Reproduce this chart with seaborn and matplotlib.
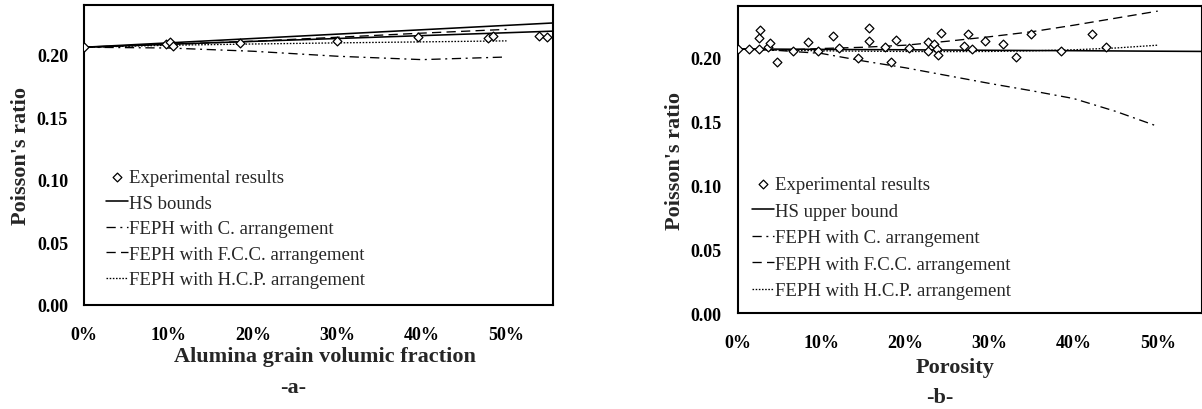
import matplotlib
matplotlib.use("Agg")
import matplotlib.pyplot as plt
from matplotlib.ticker import PercentFormatter, FormatStrFormatter, FixedLocator
import seaborn as sns

# ---- Panel (a): Poisson's ratio vs alumina grain volumic fraction ----
a_exp_x = [0.000, 0.097, 0.102, 0.105, 0.185, 0.299, 0.395, 0.478, 0.484, 0.538, 0.548]
a_exp_y = [0.2062, 0.2088, 0.2102, 0.2070, 0.2100, 0.2115, 0.2145, 0.2137, 0.2155, 0.2150, 0.2145]
a_hs_x = [0.0, 0.1, 0.2, 0.3, 0.4, 0.5, 0.56]
a_hs_upper = [0.2062, 0.2097, 0.2132, 0.2167, 0.2202, 0.2237, 0.2258]
a_hs_lower = [0.2062, 0.2086, 0.2109, 0.2132, 0.2155, 0.2178, 0.2192]
a_model_x = [0.0, 0.1, 0.2, 0.3, 0.4, 0.5]
a_c = [0.2062, 0.2056, 0.2030, 0.1990, 0.1963, 0.1984]
a_fcc = [0.2062, 0.2085, 0.2110, 0.2142, 0.2175, 0.2205]
a_hcp = [0.2062, 0.2078, 0.2088, 0.2097, 0.2105, 0.2113]

# ---- Panel (b): Poisson's ratio vs porosity ----
b_exp_x = [0.000, 0.013, 0.025, 0.025, 0.027, 0.036, 0.038, 0.047, 0.066, 0.084,
           0.096, 0.113, 0.120, 0.143, 0.156, 0.156, 0.175, 0.183, 0.189, 0.204,
           0.226, 0.226, 0.234, 0.237, 0.238, 0.242, 0.269, 0.274, 0.279, 0.294,
           0.316, 0.331, 0.349, 0.385, 0.422, 0.438]
b_exp_y = [0.2063, 0.2063, 0.2063, 0.2152, 0.2209, 0.2080, 0.2110, 0.1959, 0.2050, 0.2115,
           0.2047, 0.2165, 0.2073, 0.1990, 0.2232, 0.2125, 0.2076, 0.1964, 0.2133, 0.2073,
           0.2115, 0.2050, 0.2102, 0.2068, 0.2016, 0.2188, 0.2086, 0.2180, 0.2068, 0.2128,
           0.2107, 0.1998, 0.2178, 0.2050, 0.2178, 0.2076]
b_hs_x = [0.0, 0.1, 0.2, 0.3, 0.4, 0.5, 0.56]
b_hs_upper = [0.2065, 0.2061, 0.2058, 0.2054, 0.2051, 0.2047, 0.2045]
b_model_x = [0.0, 0.05, 0.1, 0.15, 0.2, 0.25, 0.3, 0.35, 0.4, 0.45, 0.5]
b_c = [0.2065, 0.2052, 0.2029, 0.1970, 0.1917, 0.1856, 0.1795, 0.1738, 0.1677, 0.1577, 0.1460]
b_fcc = [0.2065, 0.2055, 0.2068, 0.2078, 0.2094, 0.2125, 0.2160, 0.2199, 0.2250, 0.2305, 0.2360]
b_hcp = [0.2065, 0.2055, 0.2050, 0.2047, 0.2045, 0.2044, 0.2045, 0.2050, 0.2058, 0.2072, 0.2094]

y_ticks = [0.00, 0.05, 0.10, 0.15, 0.20]
x_ticks = [0.0, 0.1, 0.2, 0.3, 0.4, 0.5]

sns.set_style("white")
plt.rcParams["font.family"] = ["Liberation Serif", "DejaVu Serif"]
plt.rcParams["axes.linewidth"] = 1.5

W, H = 1202, 410
fig = plt.figure(figsize=(W / 100, H / 100), dpi=100)


def px_axes(left, right, top, bottom):
    return fig.add_axes([left / W, 1 - bottom / H, (right - left) / W, (bottom - top) / H])


ax_a = px_axes(84, 553, 6, 306)
ax_b = px_axes(737.7, 1202, 7, 314.3)

LW_SOLID = 1.15
LW_DASH = 0.95
STY_C = (0, (7, 3.5, 1.5, 3.5))
STY_FCC = (0, (7, 4))
STY_HCP = (0, (1.2, 1.2))

exp_kw = dict(marker="D", s=20, facecolor="white", edgecolor="black",
              linewidth=0.9, zorder=4)


def draw_panel(ax, exp_x, exp_y, hs_sets, mx, c, fcc, hcp):
    sns.scatterplot(x=exp_x, y=exp_y, ax=ax, label="Experimental results", **exp_kw)
    for i, (hx, hy, hlabel) in enumerate(hs_sets):
        sns.lineplot(x=hx, y=hy, ax=ax, color="black", linewidth=LW_SOLID,
                     label=hlabel if i == 0 else None, zorder=3)
    sns.lineplot(x=mx, y=c, ax=ax, color="black", linewidth=LW_DASH,
                 linestyle=STY_C, label="FEPH with C. arrangement", zorder=2)
    sns.lineplot(x=mx, y=fcc, ax=ax, color="black", linewidth=LW_DASH,
                 linestyle=STY_FCC, label="FEPH with F.C.C. arrangement", zorder=2)
    sns.lineplot(x=mx, y=hcp, ax=ax, color="black", linewidth=LW_DASH,
                 linestyle=STY_HCP, label="FEPH with H.C.P. arrangement", zorder=2)


draw_panel(ax_a, a_exp_x, a_exp_y,
           [(a_hs_x, a_hs_upper, "HS bounds"), (a_hs_x, a_hs_lower, None)],
           a_model_x, a_c, a_fcc, a_hcp)
draw_panel(ax_b, b_exp_x, b_exp_y,
           [(b_hs_x, b_hs_upper, "HS upper bound")],
           b_model_x, b_c, b_fcc, b_hcp)

ax_a.set_xlim(0, 0.555)
ax_b.set_xlim(0, 0.5527)

for ax in (ax_a, ax_b):
    ax.set_ylim(0, 0.24)
    ax.xaxis.set_major_locator(FixedLocator(x_ticks))
    ax.yaxis.set_major_locator(FixedLocator(y_ticks))
    ax.xaxis.set_major_formatter(PercentFormatter(1, decimals=0))
    ax.yaxis.set_major_formatter(FormatStrFormatter("%.2f"))
    ax.tick_params(axis="both", direction="out", length=4, width=1.2,
                   labelsize=13, colors="black")
    ax.tick_params(axis="x", pad=11)
    ax.tick_params(axis="y", pad=7.5)
    for lab in ax.get_xticklabels() + ax.get_yticklabels():
        lab.set_fontweight("bold")
    for sp in ax.spines.values():
        sp.set_visible(True)
        sp.set_color("black")
        sp.set_linewidth(1.5)
    ax.set_ylabel("Poisson's ratio", fontsize=16, fontweight="bold")
    ax.grid(False)

ax_a.set_xlabel("Alumina grain volumic fraction", fontsize=16, fontweight="bold", va="center")
ax_a.xaxis.set_label_coords((324.5 - 84) / 469, (306 - 357) / 300)
ax_a.yaxis.set_label_coords((31 - 84) / 469, 0.5)

ax_b.set_xlabel("Porosity", fontsize=16, fontweight="bold", va="center")
ax_b.xaxis.set_label_coords((955 - 737.7) / 464.3, (314.3 - 368) / 307.3)
ax_b.yaxis.set_label_coords((685 - 737.7) / 464.3, 0.5)

leg_kw = dict(frameon=False, fontsize=13.5, handlelength=1.15, handletextpad=0.1,
              borderpad=0, borderaxespad=0, scatterpoints=1, loc="upper left")
for ax, (lx, ly), spacing in ((ax_a, (106, 170), 0.45), (ax_b, (752, 177), 0.5)):
    ax.legend(bbox_to_anchor=(lx / W, 1 - ly / H), bbox_transform=fig.transFigure,
              labelspacing=spacing, **leg_kw)

fig.text(293.5 / W, 1 - 388 / H, "-a-", ha="center", va="center",
         fontsize=16, fontweight="bold")
fig.text(940 / W, 1 - 398 / H, "-b-", ha="center", va="center",
         fontsize=16, fontweight="bold")

fig.savefig("out.png", dpi=100, facecolor="white")
